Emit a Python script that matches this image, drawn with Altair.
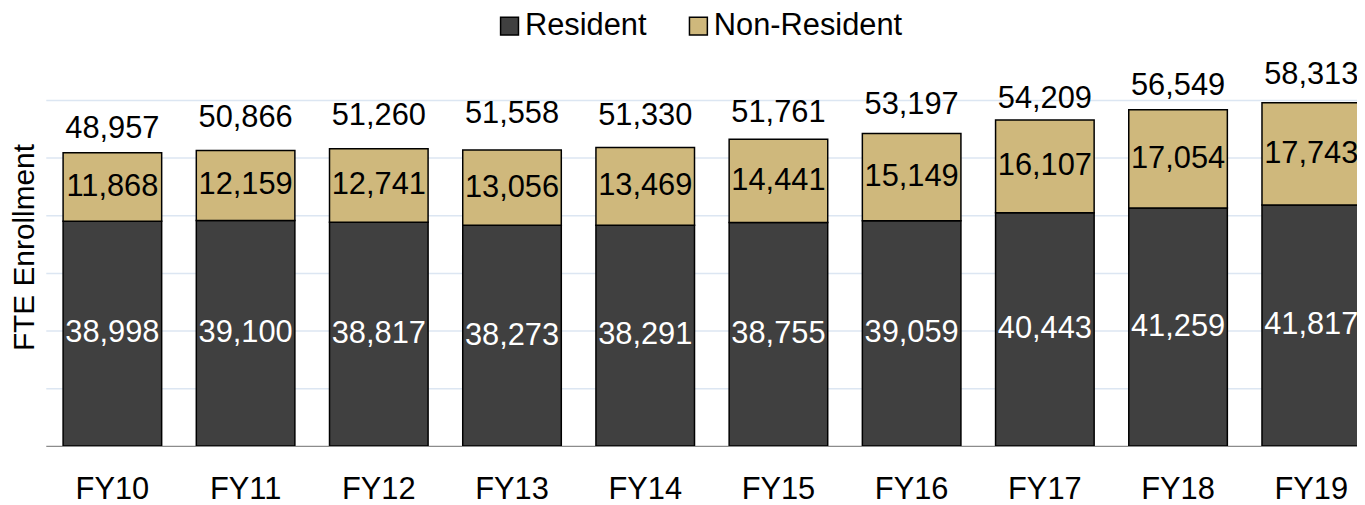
import altair as alt
import pandas as pd

years = ["FY10", "FY11", "FY12", "FY13", "FY14", "FY15", "FY16", "FY17", "FY18", "FY19"]
resident = [38998, 39100, 38817, 38273, 38291, 38755, 39059, 40443, 41259, 41817]
non_resident = [11868, 12159, 12741, 13056, 13469, 14441, 15149, 16107, 17054, 17743]
total_labels = [48957, 50866, 51260, 51558, 51330, 51761, 53197, 54209, 56549, 58313]
series = ["Resident", "Non-Resident"]
colors = ["#404040", "#CFB87C"]
grid_values = [10000, 20000, 30000, 40000, 50000, 60000]

rows = []
for i, yr in enumerate(years):
    rows.append({"year": yr, "series": "Resident", "ord": 0, "value": resident[i]})
    rows.append({"year": yr, "series": "Non-Resident", "ord": 1, "value": non_resident[i]})
df = pd.DataFrame(rows)
tot = pd.DataFrame({"year": years, "total": total_labels})

FONT = "Liberation Sans"

xscale = alt.Scale(domain=years, range=[0, 1340], paddingInner=0.26, paddingOuter=0.13)
yscale = alt.Scale(domain=[0, 69000], nice=False, zero=True)

xaxis = alt.Axis(title=None, labelAngle=0, ticks=False, tickSize=0, labelPadding=53,
                 labelBaseline="alphabetic", labelFontSize=31, labelColor="black",
                 domainColor="#8c8c8c", domainWidth=1.5, grid=False, labelFont=FONT)
yaxis = alt.Axis(title="FTE Enrollment", labels=False, ticks=False, domain=False,
                 values=grid_values, gridColor="#dce6f2", gridWidth=1.5,
                 titleFontSize=30, titleFontWeight="normal", titleColor="black",
                 titleX=-12, titleY=200, titleBaseline="alphabetic", titleAlign="center",
                 titleAngle=270, titleFont=FONT)

x = alt.X("year:N", scale=xscale, sort=years, axis=xaxis)

bars = alt.Chart(df).mark_bar(stroke="black", strokeWidth=1.5, clip=True).encode(
    x=x,
    y=alt.Y("value:Q", stack="zero", scale=yscale, axis=yaxis),
    color=alt.Color("series:N", scale=alt.Scale(domain=series, range=colors),
                    legend=alt.Legend(title=None, orient="none", legendX=451, legendY=-38,
                                      direction="horizontal", symbolType="square",
                                      symbolSize=324, symbolStrokeColor="black",
                                      symbolStrokeWidth=1.5, labelFontSize=31,
                                      labelOffset=0, columnPadding=36, labelColor="black",
                                      labelLimit=400, symbolOpacity=1, labelFont=FONT)),
    order=alt.Order("ord:Q", sort="ascending"),
)

seg_labels = alt.Chart(df).transform_stack(
    stack="value", groupby=["year"], sort=[alt.SortField("ord", order="ascending")],
    as_=["y0", "y1"]
).transform_calculate(
    mid="(datum.y0 + datum.y1) / 2",
    tc="datum.series == 'Resident' ? 'white' : 'black'"
).mark_text(fontSize=31, baseline="middle", font=FONT).encode(
    x=x,
    y=alt.Y("mid:Q", scale=yscale, axis=yaxis),
    text=alt.Text("value:Q", format=","),
    fill=alt.Fill("tc:N", scale=None),
)

tot_labels = alt.Chart(tot).mark_text(fontSize=31, baseline="alphabetic", dy=-25.5,
                                      color="black", font=FONT).encode(
    x=x,
    y=alt.Y("total:Q", scale=yscale, axis=yaxis),
    text=alt.Text("total:Q", format=","),
)

chart = alt.layer(bars, seg_labels, tot_labels).properties(
    width=1319, height=400,
    autosize=alt.AutoSizeParams(type="none"),
    padding={"left": 38, "top": 39, "right": 0, "bottom": 58},
).configure(font=FONT).configure_view(stroke=None, strokeWidth=0)

chart.save("out.html", embed_options={"renderer": "svg", "actions": False})
